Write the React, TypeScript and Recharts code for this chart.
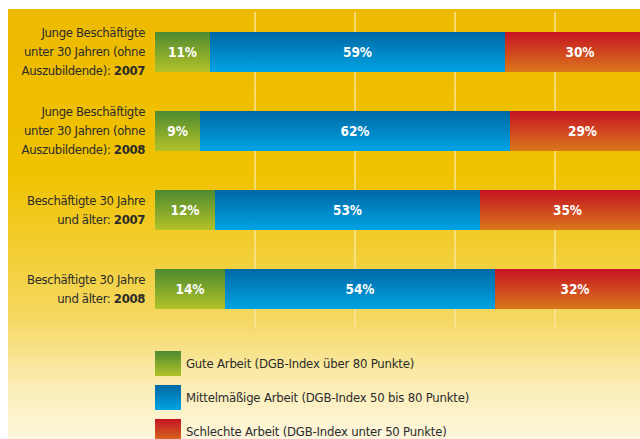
import { BarChart, Bar, XAxis, YAxis, CartesianGrid, LabelList } from 'recharts';

// Categories (row ids), label lines and the bold year suffix
const categories = ['jung2007', 'jung2008', 'alt2007', 'alt2008'];
const labelLines = [
  ['Junge Beschäftigte', 'unter 30 Jahren (ohne', 'Auszubildende): '],
  ['Junge Beschäftigte', 'unter 30 Jahren (ohne', 'Auszubildende): '],
  ['Beschäftigte 30 Jahre', 'und älter: '],
  ['Beschäftigte 30 Jahre', 'und älter: '],
];
const years = ['2007', '2008', '2007', '2008'];

// Shares in percent
const gute = [11, 9, 12, 14];
const mittel = [59, 62, 53, 54];
const schlecht = [30, 29, 35, 32];

const seriesNames = [
  'Gute Arbeit (DGB-Index über 80 Punkte)',
  'Mittelmäßige Arbeit (DGB-Index 50 bis 80 Punkte)',
  'Schlechte Arbeit (DGB-Index unter 50 Punkte)',
];
const gridTicks = [20, 40, 60, 80];

const FONT = '"DejaVu Sans Condensed", "Liberation Sans Narrow", sans-serif';

const grads = [
  { id: 'gGreen', top: '#4e8a30', bottom: '#b2c228' },
  { id: 'gBlue', top: '#0068a4', bottom: '#00a3e3' },
  { id: 'gRed', top: '#c51322', bottom: '#da781c' },
];

const data = categories.map((c, i) => ({
  cat: c,
  gute: gute[i],
  mittel: mittel[i],
  schlecht: schlecht[i],
}));

function RowTick(props: any) {
  const { x, y, payload } = props;
  const lines = labelLines[payload.index];
  const n = lines.length;
  return (
    <g>
      {lines.map((line, i) => (
        <text
          key={i}
          x={x}
          y={y + (i - (n - 1) / 2) * 19}
          dy="0.35em"
          textAnchor="end"
          fill="#2b2b2b"
          fontSize={13}
          letterSpacing={-0.35}
          fontFamily={FONT}
        >
          {line}
          {i === n - 1 && <tspan fontWeight="bold">{years[payload.index]}</tspan>}
        </text>
      ))}
    </g>
  );
}

const pct = (v: any) => `${v}%`;

export default function App() {
  return (
    <div
      style={{
        position: 'absolute',
        left: 0,
        top: 0,
        width: 640,
        height: 439,
        overflow: 'hidden',
        background: '#ffffff',
      }}
    >
      <div
        style={{
          position: 'absolute',
          left: 8,
          top: 9,
          width: 632,
          height: 430,
          background:
            'linear-gradient(to bottom, #edba00 0%, #f0c200 38%, #f5d862 72%, #fbeeb8 88%, #fdf6dc 100%)',
        }}
      />
      <div style={{ position: 'absolute', left: 0, top: 0 }}>
        <BarChart
          width={660}
          height={439}
          data={data}
          layout="vertical"
          margin={{ top: 12, right: 5, bottom: 111, left: 10 }}
        >
          <defs>
            {grads.map((g) => (
              <linearGradient key={g.id} id={g.id} x1="0" y1="0" x2="0" y2="1">
                <stop offset="0%" stopColor={g.top} />
                <stop offset="100%" stopColor={g.bottom} />
              </linearGradient>
            ))}
          </defs>
          <CartesianGrid horizontal={false} verticalValues={gridTicks} stroke="#fbe9a6" strokeWidth={1.3} />
          <XAxis type="number" domain={[0, 100]} ticks={gridTicks} hide />
          <YAxis
            type="category"
            dataKey="cat"
            width={145}
            axisLine={false}
            tickLine={false}
            tickMargin={4}
            tick={<RowTick />}
            interval={0}
          />
          <Bar dataKey="gute" name={seriesNames[0]} stackId="a" fill="url(#gGreen)" barSize={40} isAnimationActive={false}>
            <LabelList dataKey="gute" position="center" formatter={pct} fill="#ffffff" fontSize={13.5} fontWeight="bold" fontFamily={FONT} />
          </Bar>
          <Bar dataKey="mittel" name={seriesNames[1]} stackId="a" fill="url(#gBlue)" barSize={40} isAnimationActive={false}>
            <LabelList dataKey="mittel" position="center" formatter={pct} fill="#ffffff" fontSize={13.5} fontWeight="bold" fontFamily={FONT} />
          </Bar>
          <Bar dataKey="schlecht" name={seriesNames[2]} stackId="a" fill="url(#gRed)" barSize={40} isAnimationActive={false}>
            <LabelList dataKey="schlecht" position="center" formatter={pct} fill="#ffffff" fontSize={13.5} fontWeight="bold" fontFamily={FONT} />
          </Bar>
        </BarChart>
      </div>
      {/* Legend below the chart */}
      <div style={{ position: 'absolute', left: 155, top: 351, fontFamily: FONT }}>
        {seriesNames.map((name, i) => (
          <div key={name} style={{ display: 'flex', alignItems: 'center', height: 25, marginBottom: 9 }}>
            <div
              style={{
                width: 26,
                height: 25,
                background: `linear-gradient(to bottom, ${grads[i].top}, ${grads[i].bottom})`,
              }}
            />
            <span style={{ marginLeft: 5, fontSize: 13, letterSpacing: -0.2, color: '#2b2b2b' }}>{name}</span>
          </div>
        ))}
      </div>
    </div>
  );
}
